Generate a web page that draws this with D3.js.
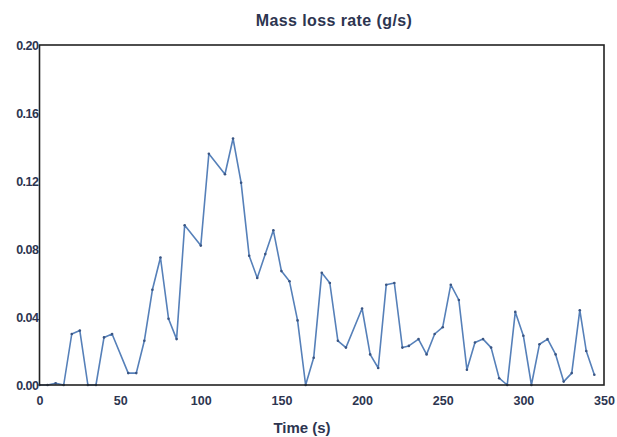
<!DOCTYPE html>
<html>
<head>
<meta charset="utf-8">
<script src="https://cdn.jsdelivr.net/npm/d3@7"></script>
<style>
  body { margin: 0; background: #fff; }
  svg text { font-family: "Liberation Sans", Arial, sans-serif; font-weight: bold; fill: #2d3550; }
</style>
</head>
<body>
<div id="chart"></div>
<script>
// mass loss rate (time in s, rate in g/s)
var times = [0, 5, 10, 15, 20, 25, 30, 35, 40, 45, 55, 60, 65, 70, 75, 80, 85,
  90, 100, 105, 115, 120, 125, 130, 135, 140, 145, 150, 155, 160, 165, 170,
  175, 180, 185, 190, 200, 205, 210, 215, 220, 225, 229, 235, 240, 245, 250,
  255, 260, 265, 270, 275, 280, 285, 290, 295, 300, 305, 310, 315, 320, 325,
  330, 335, 339, 344]
var rates = [0.000, 0.000, 0.001, 0.000, 0.030, 0.032, 0.000, 0.000, 0.028, 0.030, 0.007, 0.007, 0.026, 0.056, 0.075, 0.039, 0.027,
  0.094, 0.082, 0.136, 0.124, 0.145, 0.119, 0.076, 0.063, 0.077, 0.091, 0.067, 0.061, 0.038, 0.000, 0.016,
  0.066, 0.060, 0.026, 0.022, 0.045, 0.018, 0.010, 0.059, 0.060, 0.022, 0.023, 0.027, 0.018, 0.030, 0.034,
  0.059, 0.050, 0.009, 0.025, 0.027, 0.022, 0.004, 0.000, 0.043, 0.029, 0.000, 0.024, 0.027, 0.018, 0.002,
  0.007, 0.044, 0.020, 0.006]
var xTicks = [0, 50, 100, 150, 200, 250, 300, 350]
var yTicks = [0.00, 0.04, 0.08, 0.12, 0.16, 0.20]

var width = 617, height = 437
var margin = {top: 45, right: 13, bottom: 52, left: 39.5}

var svg = d3.select("#chart").append("svg")
  .attr("width", width)
  .attr("height", height)

var x = d3.scaleLinear().domain([0, 350]).range([margin.left, width - margin.right])
var y = d3.scaleLinear().domain([0, 0.2]).range([height - margin.bottom, margin.top])

var data = times.map(function(t, i) { return {t: t, v: rates[i]} })

svg.append("g")
  .attr("transform", "translate(0," + (height - margin.bottom) + ")")
  .call(d3.axisBottom(x).tickValues(xTicks).tickSize(0).tickPadding(11).tickFormat(d3.format("d")))
  .call(function(g) { g.select(".domain").remove() })
  .selectAll("text").style("font-size", "12.5px")

svg.append("g")
  .attr("transform", "translate(" + margin.left + ",0)")
  .call(d3.axisLeft(y).tickValues(yTicks).tickSize(0).tickPadding(1).tickFormat(d3.format(".2f")))
  .call(function(g) { g.select(".domain").remove() })
  .selectAll("text").style("font-size", "12.5px").style("letter-spacing", "-0.5px")

var line = d3.line()
  .x(function(d) { return x(d.t) })
  .y(function(d) { return y(d.v) })

svg.append("path")
  .datum(data)
  .attr("d", line)
  .attr("fill", "none")
  .attr("stroke", "#5680b9")
  .attr("stroke-width", 1.6)
  .attr("stroke-linejoin", "round")

svg.selectAll(".dot")
  .data(data)
  .enter().append("circle")
  .attr("class", "dot")
  .attr("cx", function(d) { return x(d.t) })
  .attr("cy", function(d) { return y(d.v) })
  .attr("r", 1.3)
  .attr("fill", "#3a5583")

// frame
svg.append("rect")
  .attr("x", margin.left)
  .attr("y", margin.top)
  .attr("width", width - margin.left - margin.right)
  .attr("height", height - margin.top - margin.bottom)
  .attr("fill", "none")
  .attr("stroke", "#222")
  .attr("stroke-width", 1.6)

svg.append("text")
  .attr("x", 334)
  .attr("y", 26)
  .attr("text-anchor", "middle")
  .style("font-size", "16px")
  .style("letter-spacing", "0.4px")
  .text("Mass loss rate (g/s)")

svg.append("text")
  .attr("x", 302)
  .attr("y", 433)
  .attr("text-anchor", "middle")
  .style("font-size", "15px")
  .text("Time (s)")
</script>
</body>
</html>
